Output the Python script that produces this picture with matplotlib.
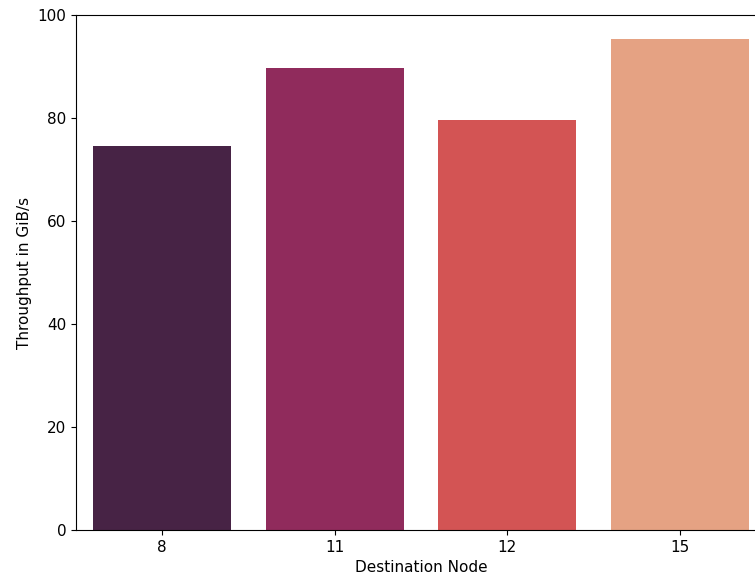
import numpy as np
import pandas as pd
import matplotlib
matplotlib.use("Agg")
import matplotlib.pyplot as plt
import seaborn as sns

# destination nodes and measured throughput
nodes = ["8", "11", "12", "15"]
throughput = [74.6, 89.7, 79.6, 95.3]

df = pd.DataFrame({"Destination Node": nodes, "Throughput in GiB/s": throughput})

plt.rcParams["font.size"] = 11

fig = plt.figure(figsize=(7.55, 5.79), dpi=100)
ax = fig.add_axes([76 / 755, 49 / 579, 690 / 755, 515 / 579])
sns.barplot(data=df, x="Destination Node", y="Throughput in GiB/s",
            hue="Destination Node", palette="rocket", legend=False, ax=ax)
ax.set_ylim(0, 100)
ax.set_xlim(-0.5, 3.5)
fig.savefig("out.png", dpi=100)
